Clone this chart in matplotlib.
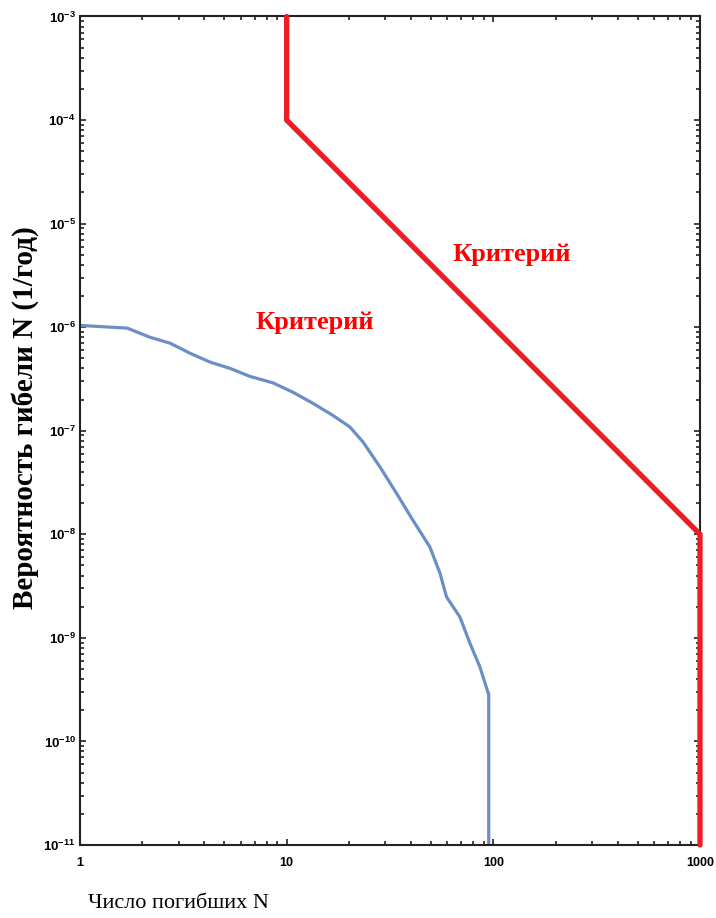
import matplotlib
matplotlib.use("Agg")
import matplotlib.pyplot as plt
from matplotlib.ticker import FixedLocator, FixedFormatter, LogLocator, NullFormatter

plt.rcParams['mathtext.fontset'] = 'custom'
plt.rcParams['mathtext.rm'] = 'Liberation Sans'
plt.rcParams['mathtext.it'] = 'Liberation Sans'
plt.rcParams['mathtext.bf'] = 'Liberation Sans:bold'

# F-N curve of the object (deaths N vs. frequency, 1/year)
fn_deaths = [1.0, 1.69, 2.18, 2.73, 3.41, 4.26, 5.32, 6.64, 8.58, 10.7, 13.4, 16.7, 20.2,
             23.4, 28.3, 34.0, 40.8, 49.3, 55.2, 59.4, 68.9, 77.0, 86.1, 94.5, 95.0, 95.0]
fn_freq = [1.04e-6, 9.8e-7, 8.0e-7, 7.0e-7, 5.6e-7, 4.6e-7, 4.0e-7, 3.35e-7, 2.9e-7, 2.36e-7,
           1.84e-7, 1.41e-7, 1.09e-7, 7.8e-8, 4.46e-8, 2.49e-8, 1.37e-8, 7.55e-9, 4.2e-9,
           2.48e-9, 1.59e-9, 8.9e-10, 5.24e-10, 2.92e-10, 2.9e-10, 1e-11]

# acceptability criterion line
crit_deaths = [10, 10, 1000, 1000]
crit_freq = [1e-3, 1e-4, 1e-8, 1e-11]

x_ticks = [1, 10, 100, 1000]
x_labels = ['1', '10', '100', '1000']
y_exps = list(range(-11, -2))

W, H = 716, 918
fig = plt.figure(figsize=(W / 100, H / 100), dpi=100)
ax = fig.add_axes([80 / W, 1 - 845 / H, 620 / W, 828.5 / H])

ax.plot(fn_deaths, fn_freq, color='#6b8fc5', lw=2.3, solid_joinstyle='round')
ax.plot(crit_deaths, crit_freq, color='#ee1c25', lw=3.8,
        solid_capstyle='round', solid_joinstyle='miter', clip_on=False, zorder=3)

ax.set_xscale('log')
ax.set_yscale('log')
ax.set_xlim(1, 1000)
ax.set_ylim(1e-11, 1e-3)

ax.xaxis.set_major_locator(FixedLocator(x_ticks))
ax.xaxis.set_major_formatter(FixedFormatter(x_labels))
ax.xaxis.set_minor_locator(LogLocator(base=10, subs=range(2, 10), numticks=20))
ax.xaxis.set_minor_formatter(NullFormatter())
ax.yaxis.set_major_locator(FixedLocator([10.0 ** e for e in y_exps]))
ax.yaxis.set_major_formatter(FixedFormatter([r'$\mathbf{10^{%d}}$' % e for e in y_exps]))
ax.yaxis.set_minor_locator(LogLocator(base=10, subs=range(2, 10), numticks=20))
ax.yaxis.set_minor_formatter(NullFormatter())

ax.tick_params(which='both', direction='in', top=True, right=True, width=1.2, color='#222222')
ax.tick_params(which='major', length=4.5)
ax.tick_params(which='minor', length=3)
ax.tick_params(axis='x', pad=9, labelsize=9)
ax.tick_params(axis='y', pad=3, labelsize=9.5)
for lbl in ax.get_xticklabels():
    lbl.set_family('Liberation Sans')
    lbl.set_weight('bold')
for sp in ax.spines.values():
    sp.set_linewidth(1.5)
    sp.set_color('#222222')

for cx, cy in [(512, 255), (315, 322)]:
    fig.text(cx / W, 1 - cy / H, 'Критерий', color='#ff0000', fontsize=19,
             fontweight='bold', family='Liberation Serif', ha='center', va='center')

fig.text(25 / W, 1 - 418 / H, 'Вероятность гибели N (1/год)', rotation=90,
         fontsize=21, fontweight='bold', family='Liberation Serif', ha='center', va='center')
fig.text(88 / W, 1 - 903 / H, 'Число погибших N', fontsize=16,
         family='Liberation Serif', ha='left', va='center')

fig.savefig('out.png', dpi=100)
